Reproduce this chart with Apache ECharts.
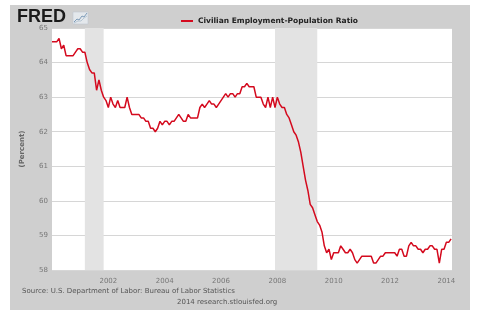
<!DOCTYPE html>
<html>
<head>
<meta charset="utf-8">
<script src="https://cdn.jsdelivr.net/npm/echarts@6/dist/echarts.min.js"></script>
<style>
html,body{margin:0;padding:0;background:#fff;}
#chart{width:477px;height:323px;}
</style>
</head>
<body>
<div id="chart"></div>
<script>
// Civilian Employment-Population Ratio, monthly, Jan 2000 - Mar 2014 (percent)
var startYear = 2000;
var y2000 = [64.6,64.6,64.6,64.7,64.4,64.5,64.2,64.2,64.2,64.2,64.3,64.4];
var y2001 = [64.4,64.3,64.3,64.0,63.8,63.7,63.7,63.2,63.5,63.2,63.0,62.9];
var y2002 = [62.7,63.0,62.8,62.7,62.9,62.7,62.7,62.7,63.0,62.7,62.5,62.5];
var y2003 = [62.5,62.5,62.4,62.4,62.3,62.3,62.1,62.1,62.0,62.1,62.3,62.2];
var y2004 = [62.3,62.3,62.2,62.3,62.3,62.4,62.5,62.4,62.3,62.3,62.5,62.4];
var y2005 = [62.4,62.4,62.4,62.7,62.8,62.7,62.8,62.9,62.8,62.8,62.7,62.8];
var y2006 = [62.9,63.0,63.1,63.0,63.1,63.1,63.0,63.1,63.1,63.3,63.3,63.4];
var y2007 = [63.3,63.3,63.3,63.0,63.0,63.0,62.8,62.7,63.0,62.7,63.0,62.7];
var y2008 = [63.0,62.8,62.7,62.7,62.5,62.4,62.2,62.0,61.9,61.7,61.4,61.0];
var y2009 = [60.6,60.3,59.9,59.8,59.6,59.4,59.3,59.1,58.7,58.5,58.6,58.3];
var y2010 = [58.5,58.5,58.5,58.7,58.6,58.5,58.5,58.6,58.5,58.3,58.2,58.3];
var y2011 = [58.4,58.4,58.4,58.4,58.4,58.2,58.2,58.3,58.4,58.4,58.5,58.5];
var y2012 = [58.5,58.5,58.5,58.4,58.6,58.6,58.4,58.4,58.7,58.8,58.7,58.7];
var y2013 = [58.6,58.6,58.5,58.6,58.6,58.7,58.7,58.6,58.6,58.2,58.6,58.6];
var y2014 = [58.8,58.8,58.9];

// Recessions as [start year, start month (1-12), end year, end month]
var recessions = [[2001,3,2001,11],[2007,12,2009,6]];
var yTicks = [58,59,60,61,62,63,64,65];
var xTickYears = [2002,2004,2006,2008,2010,2012,2014];

var seriesName = 'Civilian Employment-Population Ratio';
var allValues = [].concat(y2000,y2001,y2002,y2003,y2004,y2005,y2006,y2007,y2008,y2009,y2010,y2011,y2012,y2013,y2014);
var data = allValues.map(function(v,i){ return [startYear + i/12, v]; });
var markAreas = recessions.map(function(r){
  return [{xAxis: r[0] + (r[1]-1)/12}, {xAxis: r[2] + (r[3]-1)/12}];
});

var FONT = 'DejaVu Sans';
var chart = echarts.init(document.getElementById('chart'), null, {renderer:'canvas'});
chart.setOption({
  animation: false,
  backgroundColor: '#ffffff',
  graphic: [
    {type:'rect', z:-10, shape:{x:10,y:5,width:460,height:305}, style:{fill:'#cfcfcf'}},
    {type:'text', left:17, top:8, style:{text:'FRED', font:'900 18px "Liberation Sans"', fill:'#1a1a1a'}},
    {type:'rect', shape:{x:73,y:12,width:15,height:12}, style:{fill:'#e4e8ec', stroke:'#b9c3cc', lineWidth:0.5}},
    {type:'polyline', shape:{points:[[74,22],[77,19],[79,20],[82,16],[84,17],[87,13]]}, style:{stroke:'#7d9bb8', lineWidth:1, fill:null}},
    {type:'polyline', shape:{points:[[74,23],[78,21],[81,21],[84,18],[87,16]]}, style:{stroke:'#a9bccd', lineWidth:0.8, fill:null}},
    {type:'text', left:22, top:288, style:{text:'Source: U.S. Department of Labor: Bureau of Labor Statistics', font:'7px "DejaVu Sans"', fill:'#555555'}},
    {type:'text', left:177, top:299, style:{text:'2014 research.stlouisfed.org', font:'7px "DejaVu Sans"', fill:'#555555'}}
  ],
  legend: {
    left: 176, top: 12,
    itemWidth: 12, itemHeight: 2, itemGap: 4,
    icon: 'rect',
    textStyle: {fontFamily: FONT, fontSize: 7.5, fontWeight: 'bold', color: '#222'},
    data: [seriesName]
  },
  grid: {left: 52, right: 25, top: 28, bottom: 53, show: true, backgroundColor: '#ffffff', borderWidth: 0},
  xAxis: {
    type: 'value', min: 2000, max: 2014.2, interval: 2,
    axisLine: {show:false}, axisTick: {show:false}, splitLine: {show:false},
    axisLabel: {
      fontFamily: FONT, fontSize: 7, color: '#777', margin: 8,
      showMinLabel: false, showMaxLabel: false,
      formatter: function(v){ return xTickYears.indexOf(Math.round(v*1000)/1000) >= 0 ? String(v) : ''; }
    }
  },
  yAxis: {
    type: 'value', min: 58, max: 65, interval: 1,
    name: '(Percent)', nameLocation: 'middle', nameGap: 26, nameRotate: 90,
    nameTextStyle: {fontFamily: FONT, fontSize: 7, fontWeight: 'bold', color: '#666'},
    axisLine: {show:false}, axisTick: {show:false},
    splitLine: {lineStyle: {color: '#d6d6d6', width: 1}},
    axisLabel: {fontFamily: FONT, fontSize: 7, color: '#777', margin: 4,
      formatter: function(v){ return yTicks.indexOf(v) >= 0 ? String(v) : ''; }}
  },
  series: [{
    name: seriesName, type: 'line', data: data, showSymbol: false,
    lineStyle: {color: '#d40a1e', width: 1.5}, itemStyle: {color: '#d40a1e'},
    z: 3,
    markArea: {silent: true, itemStyle: {color: '#e3e3e3'}, data: markAreas, z: 1}
  }]
});
</script>
</body>
</html>
